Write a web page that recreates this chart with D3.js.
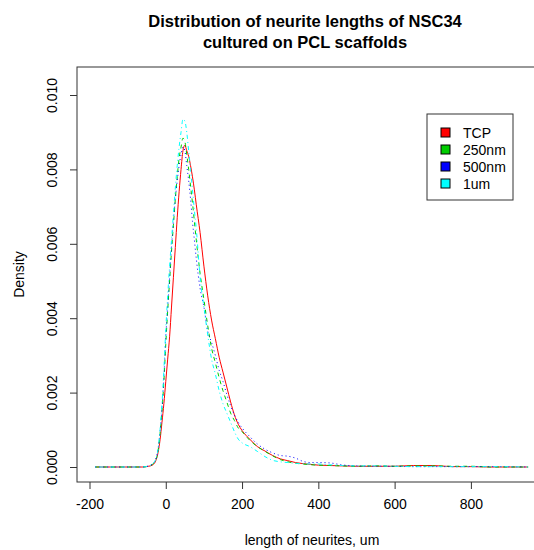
<!DOCTYPE html>
<html>
<head>
<meta charset="utf-8">
<script src="https://cdn.jsdelivr.net/npm/d3@7"></script>
<style>
  body { margin: 0; background: #fff; }
  svg { display: block; font-family: "Liberation Sans", Arial, sans-serif; }
</style>
</head>
<body>
<div id="graph"></div>
<script>
// grid of neurite lengths (um) where the densities were read
var lengths = [-185, -100, -60, -45, -35, -25, -20, -15, -10, -5, 0, 5, 10, 15, 20, 25, 30, 35, 40, 45, 50,
  55, 60, 65, 70, 75, 80, 90, 100, 110, 120, 130, 140, 150, 160, 170, 180, 190, 200, 220, 240, 260, 280,
  300, 320, 340, 360, 380, 400, 430, 460, 500, 550, 600, 650, 700, 750, 800, 850, 950];

// densities, in units of 0.001
var tcp = [0, 0, 0, 0.02, 0.05, 0.2, 0.4, 0.73, 1.2, 1.7, 2.3, 2.9, 3.5, 4.3, 5.1, 5.9, 6.7, 7.4, 8.0, 8.5, 8.65,
  8.5, 8.35, 8.1, 7.8, 7.45, 7.05, 6.3, 5.4, 4.6, 3.95, 3.45, 2.95, 2.55, 2.15, 1.75, 1.4, 1.15, 0.98, 0.75, 0.55, 0.43, 0.31,
  0.22, 0.17, 0.12, 0.09, 0.07, 0.05, 0.04, 0.03, 0.02, 0.02, 0.02, 0.04, 0.04, 0.01, 0.01, 0, 0];
var nm250 = [0, 0, 0, 0.03, 0.07, 0.22, 0.45, 0.9, 1.5, 2.3, 3.3, 4.2, 5.0, 5.8, 6.5, 7.2, 7.8, 8.3, 8.6, 8.84, 8.75,
  8.4, 8.0, 7.55, 7.1, 6.6, 6.1, 5.2, 4.5, 3.8, 3.2, 2.8, 2.4, 2.05, 1.75, 1.45, 1.25, 1.05, 0.95, 0.72, 0.55, 0.42, 0.3,
  0.2, 0.14, 0.1, 0.08, 0.06, 0.05, 0.04, 0.03, 0.02, 0.03, 0.02, 0.03, 0.03, 0.02, 0.02, 0, 0];
var nm500 = [0, 0, 0, 0.03, 0.08, 0.25, 0.5, 0.95, 1.55, 2.4, 3.5, 4.3, 5.1, 5.9, 6.6, 7.2, 7.7, 8.1, 8.4, 8.6, 8.5,
  8.1, 7.7, 7.2, 6.6, 6.1, 5.6, 4.8, 4.3, 3.65, 3.35, 3.0, 2.6, 2.3, 1.95, 1.65, 1.4, 1.2, 1.05, 0.82, 0.62, 0.48, 0.38,
  0.31, 0.29, 0.24, 0.15, 0.12, 0.12, 0.11, 0.06, 0.03, 0.02, 0.02, 0.01, 0.01, 0.01, 0.01, 0.01, 0];
var um1 = [0, 0, 0, 0.03, 0.08, 0.25, 0.5, 1.0, 1.7, 2.6, 3.7, 4.6, 5.4, 6.1, 6.8, 7.5, 8.1, 8.6, 9.0, 9.35, 9.3,
  9.0, 8.5, 8.0, 7.45, 6.9, 6.4, 5.1, 4.3, 3.55, 2.9, 2.5, 2.05, 1.7, 1.45, 1.2, 0.95, 0.75, 0.65, 0.55, 0.42, 0.28, 0.18,
  0.14, 0.12, 0.1, 0.09, 0.08, 0.08, 0.06, 0.04, 0.03, 0.03, 0.02, 0.01, 0.01, 0.01, 0.01, 0.01, 0];

var seriesNames = ['TCP', '250nm', '500nm', '1um'];
var seriesColors = ['#ff0000', '#00cd00', '#0000ff', '#00ffff'];
var seriesDash = [null, '4,4', '1,3', '1,3,4,3'];
var xTicks = [-200, 0, 200, 400, 600, 800];
var yTicks = [0, 0.002, 0.004, 0.006, 0.008, 0.010];

var width = 534, height = 550;
var box = { left: 77, top: 67, right: 548, bottom: 482 };

var svg = d3.select('#graph').append('svg')
  .attr('width', width)
  .attr('height', height);

var x = d3.scaleLinear().domain([-200, 800]).range([89.5, 470.9]);
var y = d3.scaleLinear().domain([0, 0.010]).range([467, 95]);

var allSeries = [tcp, nm250, nm500, um1].map(function (vals, i) {
  return {
    name: seriesNames[i],
    color: seriesColors[i],
    dash: seriesDash[i],
    points: vals.map(function (v, j) { return [lengths[j], v / 1000]; })
  };
});

// title
var title = svg.append('text')
  .attr('text-anchor', 'middle')
  .style('font-weight', 'bold')
  .style('font-size', '16.5px');
title.append('tspan').attr('x', 305).attr('y', 27).text('Distribution of neurite lengths of NSC34');
title.append('tspan').attr('x', 305).attr('y', 48).text('cultured on PCL scaffolds');

// density curves
var line = d3.line()
  .x(function (d) { return x(d[0]); })
  .y(function (d) { return y(d[1]); })
  .curve(d3.curveMonotoneX);

svg.selectAll('.curve')
  .data(allSeries)
  .enter()
  .append('path')
  .classed('curve', true)
  .attr('d', function (d) { return line(d.points); })
  .attr('fill', 'none')
  .attr('stroke', function (d) { return d.color; })
  .attr('stroke-width', 1)
  .attr('stroke-dasharray', function (d) { return d.dash; });

// plot box
svg.append('rect')
  .attr('x', box.left)
  .attr('y', box.top)
  .attr('width', box.right - box.left)
  .attr('height', box.bottom - box.top)
  .attr('fill', 'none')
  .attr('stroke', '#333')
  .attr('stroke-width', 1);

// x axis (plain hyphen for negatives, like R)
var xAxis = svg.append('g')
  .attr('transform', 'translate(0,' + box.bottom + ')')
  .call(d3.axisBottom(x).tickValues(xTicks).tickSize(7).tickPadding(10)
    .tickFormat(function (d) { return String(d); }));
xAxis.select('.domain').remove();
xAxis.selectAll('line').attr('stroke', '#333');
xAxis.selectAll('text').style('font-size', '14px').attr('fill', '#000')
  .style('font-family', '"Liberation Sans", Arial, sans-serif');

// y axis, labels turned like in R
var yAxis = svg.append('g')
  .attr('transform', 'translate(' + box.left + ',0)')
  .call(d3.axisLeft(y).tickValues(yTicks).tickSize(7).tickFormat(d3.format('.3f')));
yAxis.select('.domain').remove();
yAxis.selectAll('line').attr('stroke', '#333');
yAxis.selectAll('text')
  .attr('x', 0).attr('dy', 0)
  .attr('text-anchor', 'middle')
  .attr('transform', 'translate(-20,0) rotate(-90)')
  .style('font-size', '14px').attr('fill', '#000')
  .style('font-family', '"Liberation Sans", Arial, sans-serif');

// axis titles
svg.append('text')
  .attr('x', 312).attr('y', 545)
  .attr('text-anchor', 'middle')
  .style('font-size', '14px')
  .text('length of neurites, um');

svg.append('text')
  .attr('transform', 'translate(24,' + ((box.top + box.bottom) / 2) + ') rotate(-90)')
  .attr('text-anchor', 'middle')
  .style('font-size', '14px')
  .text('Density');

// legend
var legend = svg.append('g').attr('transform', 'translate(427,114)');
legend.append('rect')
  .attr('width', 86).attr('height', 86)
  .attr('fill', '#fff').attr('stroke', '#333');
var rows = legend.selectAll('.row')
  .data(allSeries)
  .enter()
  .append('g')
  .classed('row', true)
  .attr('transform', function (d, i) { return 'translate(0,' + (18.5 + i * 17) + ')'; });
rows.append('rect')
  .attr('x', 14).attr('y', -4.5)
  .attr('width', 9).attr('height', 9)
  .attr('fill', function (d) { return d.color; })
  .attr('stroke', '#000');
rows.append('text')
  .attr('x', 36).attr('y', 5)
  .style('font-size', '14px')
  .text(function (d) { return d.name; });
</script>
</body>
</html>
